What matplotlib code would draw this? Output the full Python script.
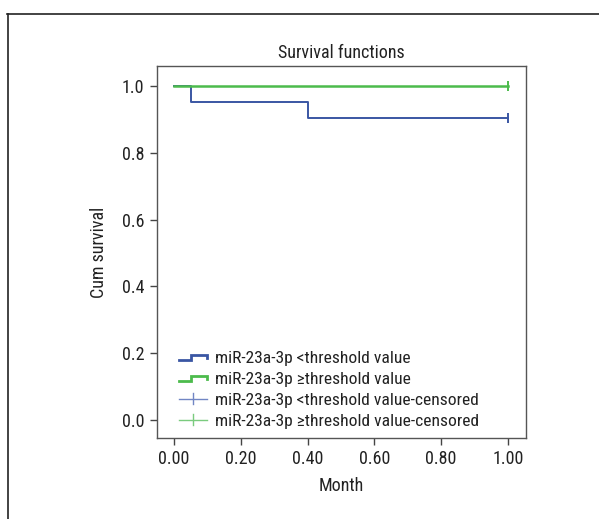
import matplotlib
matplotlib.use("Agg")
import matplotlib.pyplot as plt
from matplotlib.lines import Line2D
from matplotlib.legend_handler import HandlerBase
from matplotlib import font_manager

names = {f.name for f in font_manager.fontManager.ttflist}
fam = [n for n in ["Roboto Condensed", "Liberation Sans Narrow", "Open Sans Condensed", "Lato"] if n in names]
plt.rcParams['font.family'] = fam + ['DejaVu Sans']

# Data
low_times = [0.0, 0.05, 0.40, 1.00]
low_surv = [1.0, 0.952, 0.905, 0.905]
high_times = [0.0, 1.00]
high_surv = [1.0, 1.0]
low_censor_t = [1.00]
low_censor_s = [0.905]
high_censor_t = [1.00]
high_censor_s = [1.0]
labels = ["miR-23a-3p <threshold value", "miR-23a-3p \u2265threshold value",
          "miR-23a-3p <threshold value-censored", "miR-23a-3p \u2265threshold value-censored"]
xticks = [0.0, 0.2, 0.4, 0.6, 0.8, 1.0]
yticks = [0.0, 0.2, 0.4, 0.6, 0.8, 1.0]

blue = "#3a56a3"
green = "#4cbb4c"
blue_l = "#7186c4"
green_l = "#7acb7e"

FS = 13
LFS = 12.6

fig = plt.figure(figsize=(5.99, 5.19), dpi=100)
ax = fig.add_axes([157/599, 1-438/519, 369/599, 372/519])

ax.step(low_times, low_surv, where='post', color=blue, lw=1.4)
ax.step(high_times, high_surv, where='post', color=green, lw=1.8)
ax.plot(low_censor_t, low_censor_s, ls='none', marker='|', ms=7, mew=1.4, color=blue)
ax.plot(high_censor_t, high_censor_s, ls='none', marker='|', ms=7, mew=1.4, color=green)

ax.set_xlim(-0.051, 1.054)
ax.set_ylim(-0.054, 1.06)
ax.set_xticks(xticks)
ax.set_xticklabels([f"{v:.2f}" for v in xticks])
ax.set_yticks(yticks)
ax.set_yticklabels([f"{v:.1f}" for v in yticks])
for s in ax.spines.values():
    s.set_color("#555555")
    s.set_linewidth(1.0)
ax.tick_params(direction='out', length=5, width=1, color="#444444", labelsize=FS,
               labelcolor="#222222", pad=4)
ax.set_title("Survival functions", fontsize=FS, color="#222222", pad=6)
ax.set_xlabel("Month", fontsize=FS, color="#222222", labelpad=6)
ax.set_ylabel("Cum survival", fontsize=FS, color="#222222", labelpad=10)


class StepHandler(HandlerBase):
    def create_artists(self, legend, orig_handle, xdescent, ydescent, width, height, fontsize, trans):
        x0 = -xdescent
        y0 = -ydescent
        xs = [x0, x0 + width*0.42, x0 + width*0.42, x0 + width, x0 + width]
        ys = [y0 + height*0.2, y0 + height*0.2, y0 + height*0.6, y0 + height*0.6, y0 + height*0.35]
        l = Line2D(xs, ys, color=orig_handle.get_color(), lw=2.0, transform=trans,
                   solid_joinstyle='miter')
        return [l]


class CrossHandler(HandlerBase):
    def create_artists(self, legend, orig_handle, xdescent, ydescent, width, height, fontsize, trans):
        x0 = -xdescent
        y0 = -ydescent
        h = Line2D([x0, x0 + width], [y0 + height/2]*2, color=orig_handle.get_color(), lw=1.0, transform=trans)
        v = Line2D([x0 + width/2]*2, [y0 + height*0.05, y0 + height*0.95], color=orig_handle.get_color(), lw=1.0, transform=trans)
        return [h, v]


h1 = Line2D([], [], color=blue)
h2 = Line2D([], [], color=green)
h3 = Line2D([], [], color=blue_l)
h4 = Line2D([], [], color=green_l)
leg = ax.legend([h1, h2, h3, h4], labels, loc='lower left', frameon=False,
                fontsize=LFS, handlelength=1.6, handletextpad=0.45, labelspacing=0.33,
                bbox_to_anchor=((179-157)/369, 0.025), borderpad=0, borderaxespad=0,
                handler_map={h1: StepHandler(), h2: StepHandler(), h3: CrossHandler(), h4: CrossHandler()})
for t in leg.get_texts():
    t.set_color("#222222")

# outer frame
fig.add_artist(Line2D([7/599, 1.0], [1-14/519]*2, transform=fig.transFigure, color="#222222", lw=1.2))
fig.add_artist(Line2D([8/599]*2, [0, 1-14/519], transform=fig.transFigure, color="#222222", lw=1.2))

fig.savefig("out.png", dpi=100)
